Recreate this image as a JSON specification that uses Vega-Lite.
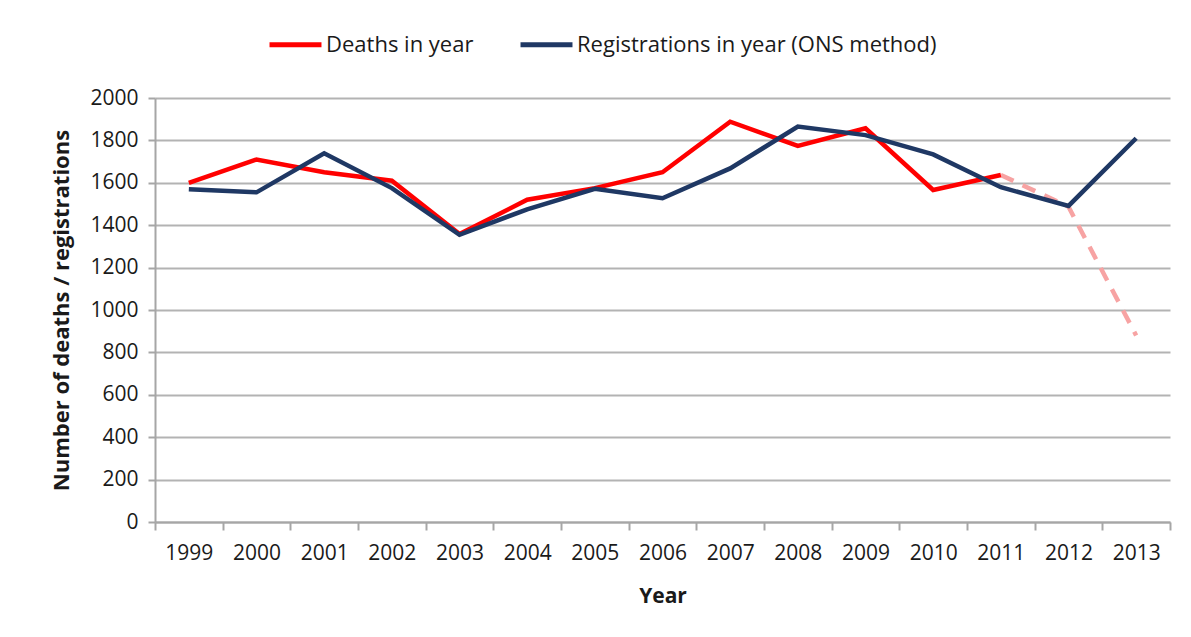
{
  "$schema": "https://vega.github.io/schema/vega-lite/v6.json",
  "width": 1015,
  "height": 424,
  "autosize": {"type": "none"},
  "padding": {"left": 155, "top": 98, "right": 21, "bottom": 115},
  "background": "white",
  "config": {
    "font": "Open Sans",
    "view": {"stroke": null},
    "axis": {"labelFont": "Open Sans", "titleFont": "Open Sans"},
    "legend": {"labelFont": "Open Sans"}
  },
  "data": {
    "values": [
      {"year": "1999", "series": "Deaths in year", "value": 1600},
      {"year": "2000", "series": "Deaths in year", "value": 1710},
      {"year": "2001", "series": "Deaths in year", "value": 1650},
      {"year": "2002", "series": "Deaths in year", "value": 1610},
      {"year": "2003", "series": "Deaths in year", "value": 1358},
      {"year": "2004", "series": "Deaths in year", "value": 1520},
      {"year": "2005", "series": "Deaths in year", "value": 1575},
      {"year": "2006", "series": "Deaths in year", "value": 1650},
      {"year": "2007", "series": "Deaths in year", "value": 1888},
      {"year": "2008", "series": "Deaths in year", "value": 1774},
      {"year": "2009", "series": "Deaths in year", "value": 1857},
      {"year": "2010", "series": "Deaths in year", "value": 1566},
      {"year": "2011", "series": "Deaths in year", "value": 1637},
      {"year": "2011", "series": "Deaths provisional", "value": 1637},
      {"year": "2012", "series": "Deaths provisional", "value": 1487},
      {"year": "2013", "series": "Deaths provisional", "value": 880},
      {"year": "1999", "series": "Registrations in year (ONS method)", "value": 1570},
      {"year": "2000", "series": "Registrations in year (ONS method)", "value": 1555},
      {"year": "2001", "series": "Registrations in year (ONS method)", "value": 1739},
      {"year": "2002", "series": "Registrations in year (ONS method)", "value": 1575},
      {"year": "2003", "series": "Registrations in year (ONS method)", "value": 1355},
      {"year": "2004", "series": "Registrations in year (ONS method)", "value": 1475},
      {"year": "2005", "series": "Registrations in year (ONS method)", "value": 1572},
      {"year": "2006", "series": "Registrations in year (ONS method)", "value": 1527},
      {"year": "2007", "series": "Registrations in year (ONS method)", "value": 1668},
      {"year": "2008", "series": "Registrations in year (ONS method)", "value": 1865},
      {"year": "2009", "series": "Registrations in year (ONS method)", "value": 1825},
      {"year": "2010", "series": "Registrations in year (ONS method)", "value": 1734},
      {"year": "2011", "series": "Registrations in year (ONS method)", "value": 1579},
      {"year": "2012", "series": "Registrations in year (ONS method)", "value": 1491},
      {"year": "2013", "series": "Registrations in year (ONS method)", "value": 1810}
    ]
  },
  "encoding": {
    "x": {
      "field": "year",
      "type": "ordinal",
      "scale": {"type": "band", "paddingInner": 0, "paddingOuter": 0},
      "axis": {
        "title": "Year",
        "titleFontSize": 21,
        "titleFontWeight": "bold",
        "titleColor": "#1a1a1a",
        "titlePadding": 22,
        "labelAngle": 0,
        "labelFontSize": 21,
        "labelColor": "#1a1a1a",
        "labelPadding": 12,
        "tickBand": "extent",
        "tickSize": 8,
        "tickColor": "#a6a6a6",
        "tickWidth": 2,
        "domainColor": "#a6a6a6",
        "domainWidth": 2,
        "grid": false
      }
    },
    "y": {
      "field": "value",
      "type": "quantitative",
      "scale": {"domain": [0, 2000], "nice": false},
      "axis": {
        "title": "Number of deaths / registrations",
        "titleFontSize": 22,
        "titleFontWeight": "bold",
        "titleColor": "#1a1a1a",
        "titlePadding": 16,
        "values": [0, 200, 400, 600, 800, 1000, 1200, 1400, 1600, 1800, 2000],
        "format": "d",
        "labelFontSize": 21,
        "labelColor": "#1a1a1a",
        "labelPadding": 10,
        "tickSize": 7,
        "tickColor": "#a6a6a6",
        "tickWidth": 2,
        "domainColor": "#a6a6a6",
        "domainWidth": 2,
        "grid": true,
        "gridColor": "#b3b3b3",
        "gridWidth": 2
      }
    }
  },
  "layer": [
    {
      "transform": [{"filter": "datum.series === 'Deaths provisional'"}],
      "mark": {"type": "line", "color": "#f7a3a3", "strokeWidth": 4.5, "strokeDash": [14, 10]}
    },
    {
      "transform": [{"filter": "datum.series !== 'Deaths provisional'"}],
      "mark": {"type": "line", "strokeWidth": 4.5},
      "encoding": {
        "color": {
          "field": "series",
          "type": "nominal",
          "scale": {
            "domain": ["Deaths in year", "Registrations in year (ONS method)"],
            "range": ["#ff0000", "#1f3864"]
          },
          "legend": {
            "title": null,
            "orient": "none",
            "legendX": 112,
            "legendY": -82,
            "direction": "horizontal",
            "symbolType": "stroke",
            "symbolSize": 2700,
            "symbolStrokeWidth": 5,
            "labelFontSize": 22,
            "labelColor": "#1a1a1a",
            "labelLimit": 600,
            "labelOffset": 2,
            "columnPadding": 36
          }
        }
      }
    }
  ]
}
